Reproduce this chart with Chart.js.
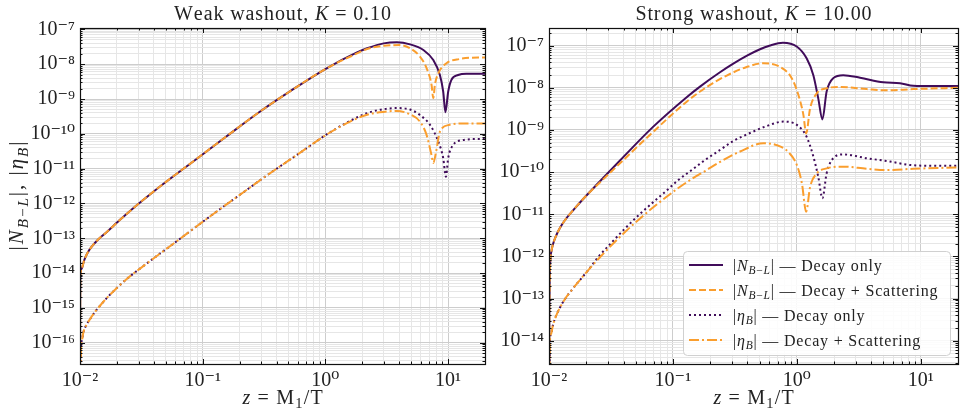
<!DOCTYPE html>
<html><head><meta charset="utf-8">
<script src="https://cdn.jsdelivr.net/npm/chart.js@4/dist/chart.umd.min.js"></script>
<style>
html,body{margin:0;padding:0;background:#fff;}
#wrap{position:relative;width:965px;height:419px;overflow:hidden;background:#fff;}
canvas{position:absolute;top:0;}
</style></head><body>
<div id="wrap">
<canvas id="c1" width="490" height="419" style="left:0px"></canvas>
<canvas id="c2" width="475" height="419" style="left:490px"></canvas>
</div>
<script>
// ---------------- DATA ----------------
// Weak washout, K = 0.10
const weakZ_NBL_decay = [0.01,0.01003,0.01009,0.01038,0.01077,0.01139,0.01232,0.01393,0.01629,0.02154,0.02931,0.0413,0.0869,0.1567,0.2825,0.525,1.007,1.81,2.19,2.99,3.83,4.9,6.29,7.58,8.58,9.13,9.52,10.02,10.65,12.07,14.08,20];
const weak_NBL_decay  = [1e-19,1e-15,8.81e-15,1.40e-14,2.23e-14,3.54e-14,5.45e-14,8.93e-14,1.45e-13,3.55e-13,9.12e-13,2.45e-12,1.78e-11,8.51e-11,3.98e-10,1.74e-9,7.41e-9,2.19e-8,2.88e-8,3.98e-8,4.27e-8,3.72e-8,2.57e-8,1.32e-8,4.90e-9,1.62e-9,4.17e-10,1.62e-9,3.55e-9,4.90e-9,5.37e-9,5.37e-9];

const weakZ_NBL_scat = [0.01,0.01003,0.01009,0.01038,0.01077,0.01139,0.01232,0.01393,0.01629,0.02154,0.02931,0.0413,0.0869,0.1567,0.2825,0.525,1.007,1.81,2.19,2.99,4.07,4.9,5.9,6.68,7.33,7.58,7.81,8.32,9.71,12.4,17.6,20];
const weak_NBL_scat  = [1e-19,1e-15,8.81e-15,1.40e-14,2.23e-14,3.54e-14,5.45e-14,8.93e-14,1.45e-13,3.55e-13,9.12e-13,2.45e-12,1.78e-11,8.51e-11,3.98e-10,1.74e-9,7.41e-9,2.04e-8,2.75e-8,3.39e-8,3.55e-8,2.88e-8,1.66e-8,7.76e-9,2.57e-9,1.05e-9,2.57e-9,5.50e-9,1.07e-8,1.41e-8,1.55e-8,1.55e-8];

const weakZ_eta_decay = [0.01,0.01019,0.01038,0.01067,0.01128,0.01216,0.01335,0.01484,0.01669,0.01901,0.02434,0.0322,0.04256,0.05807,0.0955,0.1318,0.2136,0.32,0.594,1.107,2.06,2.76,3.83,4.9,5.9,7.12,8.32,9.13,9.6,10.02,10.99,13.2,17.6,20];
const weak_eta_decay  = [1e-19,6.17e-17,1.19e-16,2.02e-16,3.21e-16,4.95e-16,7.89e-16,1.25e-15,1.99e-15,3.16e-15,7.00e-15,1.51e-14,3.16e-14,7.08e-14,2.63e-13,6.08e-13,2.07e-12,5.77e-12,2.56e-11,1.14e-10,3.63e-10,4.90e-10,5.50e-10,5.01e-10,3.47e-10,1.82e-10,6.03e-11,2.00e-11,5.89e-12,2.00e-11,4.79e-11,6.61e-11,7.08e-11,7.08e-11];

const weakZ_eta_scat = [0.01,0.01019,0.01038,0.01067,0.01128,0.01216,0.01335,0.01484,0.01669,0.01901,0.02434,0.0322,0.04256,0.05807,0.0955,0.1318,0.2136,0.32,0.594,1.107,2.06,2.76,3.83,4.9,5.9,6.68,7.33,7.58,7.99,8.58,10.3,14.1,20];
const weak_eta_scat  = [1e-19,6.17e-17,1.19e-16,2.02e-16,3.21e-16,4.95e-16,7.89e-16,1.25e-15,1.99e-15,3.16e-15,7.00e-15,1.51e-14,3.16e-14,7.08e-14,2.63e-13,6.08e-13,2.07e-12,5.77e-12,2.56e-11,1.13e-10,3.31e-10,4.17e-10,4.57e-10,3.63e-10,2.24e-10,9.33e-11,2.45e-11,1.45e-11,3.09e-11,1.15e-10,1.82e-10,2.00e-10,2.00e-10];

// Strong washout, K = 10.00
const strongZ_NBL_decay = [0.01,0.010037,0.01011,0.01024,0.01047,0.01083,0.01139,0.01189,0.01273,0.01397,0.01571,0.01953,0.025,0.03741,0.06947,0.1292,0.1655,0.2399,0.3072,0.40,0.5047,0.60,0.7737,0.998,1.2,1.36,1.49,1.61,1.74,1.97,2.37,3.24,4.99,6.81,8.71,12.6,20];
const strong_NBL_decay  = [1e-19,2.8e-15,1.60e-13,7.36e-13,1.34e-12,2.05e-12,3.05e-12,4.01e-12,5.71e-12,8.38e-12,1.26e-11,2.57e-11,5.52e-11,1.89e-10,1.20e-9,6.00e-9,1.07e-8,2.34e-8,3.75e-8,5.87e-8,8.22e-8,9.95e-8,1.18e-7,9.55e-8,5.01e-8,2.00e-8,5.62e-9,1.78e-9,8.13e-9,1.70e-8,2.00e-8,1.74e-8,1.35e-8,1.29e-8,1.12e-8,1.10e-8,1.10e-8];

const strongZ_NBL_scat = [0.01,0.010037,0.01011,0.01024,0.01047,0.01083,0.01139,0.01189,0.01273,0.01397,0.01571,0.01953,0.025,0.03741,0.06947,0.1292,0.1655,0.2107,0.2718,0.3941,0.5365,0.731,0.91,1.03,1.13,1.19,1.28,1.45,1.74,2.23,3.66,5.32,8.71,20];
const strong_NBL_scat  = [1e-19,2.8e-15,1.60e-13,7.36e-13,1.34e-12,2.05e-12,3.05e-12,4.01e-12,5.71e-12,8.38e-12,1.26e-11,2.57e-11,5.22e-11,1.62e-10,9.10e-10,4.69e-9,8.18e-9,1.30e-8,1.96e-8,3.13e-8,3.82e-8,3.16e-8,1.70e-8,6.76e-9,2.29e-9,8.32e-10,3.24e-9,7.41e-9,9.77e-9,1.05e-8,9.33e-9,8.71e-9,9.33e-9,1.00e-8];

const strongZ_eta_decay = [0.01,0.01015,0.01038,0.01077,0.01139,0.01227,0.01346,0.01505,0.01723,0.02076,0.025,0.03207,0.04106,0.05257,0.06743,0.08633,0.1106,0.1418,0.1816,0.2399,0.3072,0.419,0.5714,0.778,1.0,1.2,1.36,1.49,1.61,1.74,1.97,2.37,3.66,5.65,8.18,12.6,20];
const strong_eta_decay  = [1e-19,7.90e-15,1.44e-14,2.36e-14,3.85e-14,6.13e-14,9.75e-14,1.51e-13,2.47e-13,4.75e-13,9.68e-13,2.14e-12,4.59e-12,9.35e-12,1.80e-11,3.37e-11,6.50e-11,1.12e-10,1.94e-10,3.35e-10,5.47e-10,8.47e-10,1.24e-9,1.58e-9,1.32e-9,6.92e-10,2.34e-10,7.76e-11,2.40e-11,9.33e-11,2.14e-10,2.63e-10,2.14e-10,1.78e-10,1.48e-10,1.41e-10,1.41e-10];

const strongZ_eta_scat = [0.01,0.01015,0.01038,0.01077,0.01139,0.01227,0.01346,0.01505,0.01723,0.02076,0.025,0.03207,0.04106,0.05257,0.06743,0.08633,0.1106,0.1418,0.1816,0.2399,0.3479,0.5365,0.688,0.853,1.0,1.1,1.19,1.28,1.45,1.74,2.37,3.66,5.32,8.71,20];
const strong_eta_scat  = [1e-19,7.90e-15,1.44e-14,2.36e-14,3.85e-14,6.13e-14,9.75e-14,1.51e-13,2.47e-13,4.75e-13,8.68e-13,1.86e-12,3.79e-12,7.31e-12,1.37e-11,2.43e-11,4.20e-11,6.87e-11,1.06e-10,1.74e-10,3.08e-10,4.83e-10,4.37e-10,3.02e-10,1.48e-10,5.37e-11,1.15e-11,4.47e-11,9.33e-11,1.23e-10,1.35e-10,1.20e-10,1.12e-10,1.20e-10,1.29e-10];

// Axis ranges and text
const X_RANGE = [0.01, 20];
const WEAK_Y_RANGE = [2.44e-17, 1.1e-7];
const STRONG_Y_RANGE = [2.8e-15, 2.63e-7];
const SERIES_LABELS = ["|N_B−L| — Decay only", "|N_B−L| — Decay + Scattering", "|η_B| — Decay only", "|η_B| — Decay + Scattering"];
const LEGEND_RICH = ["$|N_{B−L}|$ — Decay only", "$|N_{B−L}|$ — Decay + Scattering", "$|η_B|$ — Decay only", "$|η_B|$ — Decay + Scattering"];
const TITLES = ["Weak washout, $K$ = 0.10", "Strong washout, $K$ = 10.00"];
const X_TITLE = "$z$ = M$_1$/T";
const Y_TITLE = "$|N_{B−L}|$, $|η_B|$";

// ---------------- STYLE ----------------
const FONT = "'Liberation Serif', 'DejaVu Serif', serif";
const PURPLE = '#400c5a';
const ORANGE = '#fa9e2e';
const STYLES = [
  {color: PURPLE, dash: [], width: 2},
  {color: ORANGE, dash: [7, 3], width: 2},
  {color: PURPLE, dash: [2, 3], width: 2},
  {color: ORANGE, dash: [10, 3, 2, 3], width: 2}
];
const GRID_MAJOR = '#cdcdcd', GRID_MINOR = '#e6e6e6';

const SUP = {'-':'⁻','0':'⁰','1':'¹','2':'²','3':'³','4':'⁴','5':'⁵','6':'⁶','7':'⁷','8':'⁸','9':'⁹'};
function fmtPow(v){ const e = Math.round(Math.log10(v)); return '10' + String(e).split('').map(c=>SUP[c]).join(''); }
function logTicks(min, max){
  const out = [];
  for (let e = Math.floor(Math.log10(min)); e <= Math.ceil(Math.log10(max)); e++) {
    for (let m = 1; m <= 9; m++) {
      const v = m * Math.pow(10, e);
      if (v >= min * 0.99999 && v <= max * 1.00001) out.push({value: v, major: m === 1});
    }
  }
  return out;
}

// -------- rich text (italic math letters, subscripts) --------
function parseRich(s){
  const segs = []; let math = false; let i = 0;
  const isL = ch => /[A-Za-z\u03b1-\u03c9]/.test(ch);
  const push = (t, it, sub) => { const l = segs[segs.length-1]; if (l && l.it===it && l.sub===sub) l.t += t; else segs.push({t, it, sub}); };
  while (i < s.length) {
    const c = s[i];
    if (c === '$') { math = !math; i++; continue; }
    if (math && c === '_') {
      let sub;
      if (s[i+1] === '{') { const j = s.indexOf('}', i+2); sub = s.slice(i+2, j); i = j+1; }
      else { sub = s[i+1]; i += 2; }
      for (const ch of sub) push(ch, isL(ch), true);
      continue;
    }
    push(c, math && isL(c), false); i++;
  }
  return segs;
}
function segFont(sg, size){ return (sg.it ? 'italic ' : '') + (sg.sub ? size*0.72 : size).toFixed(1) + 'px ' + FONT; }
function drawRich(ctx, str, x, y, size, align, ls){
  ls = ls || 0;
  const segs = parseRich(str);
  let w = 0;
  segs.forEach(sg => { ctx.font = segFont(sg, size); for (const ch of sg.t) w += ctx.measureText(ch).width + ls; });
  w -= ls;
  let cx = align === 'center' ? x - w/2 : (align === 'right' ? x - w : x);
  ctx.textAlign = 'left'; ctx.textBaseline = 'alphabetic'; ctx.fillStyle = '#222';
  segs.forEach(sg => {
    ctx.font = segFont(sg, size);
    for (const ch of sg.t) { ctx.fillText(ch, cx, y + (sg.sub ? size*0.22 : 0)); cx += ctx.measureText(ch).width + ls; }
  });
}

const decorPlugin = {
  id: 'decor',
  afterDatasetsDraw(chart, args, o) {
    const ctx = chart.ctx, a = chart.chartArea, xs = chart.scales.x, ys = chart.scales.y;
    ctx.save();
    ctx.strokeStyle = '#111'; ctx.lineWidth = 1; ctx.setLineDash([]);
    ctx.beginPath();
    xs.ticks.forEach(t => {
      const p = Math.round(xs.getPixelForValue(t.value)) + 0.5; const L = t.major ? 5 : 2.5;
      ctx.moveTo(p, a.bottom); ctx.lineTo(p, a.bottom - L);
      ctx.moveTo(p, a.top); ctx.lineTo(p, a.top + L);
    });
    ys.ticks.forEach(t => {
      const p = Math.round(ys.getPixelForValue(t.value)) + 0.5; const L = t.major ? 5 : 2.5;
      ctx.moveTo(a.left, p); ctx.lineTo(a.left + L, p);
      ctx.moveTo(a.right, p); ctx.lineTo(a.right - L, p);
    });
    ctx.stroke();
    ctx.lineWidth = 1.2;
    ctx.strokeRect(Math.round(a.left)+0.5, Math.round(a.top)+0.5, Math.round(a.right - a.left), Math.round(a.bottom - a.top));
    if (o.legend) {
      const bw = 267, bh = 104; const bx = a.right - 8 - bw, by = a.bottom - 9 - bh;
      ctx.fillStyle = 'rgba(255,255,255,0.85)'; ctx.strokeStyle = '#d0d0d0'; ctx.lineWidth = 1;
      ctx.beginPath(); ctx.roundRect(bx + 0.5, by + 0.5, bw, bh, 4); ctx.fill(); ctx.stroke();
      chart.data.datasets.forEach((ds, i) => {
        const ry = by + 14 + i * 25;
        ctx.strokeStyle = ds.borderColor; ctx.lineWidth = ds.borderWidth; ctx.setLineDash(ds.borderDash || []);
        ctx.beginPath(); ctx.moveTo(bx + 6, ry); ctx.lineTo(bx + 40, ry); ctx.stroke();
        ctx.setLineDash([]);
        drawRich(ctx, LEGEND_RICH[i], bx + 50, ry + 5.5, 16, 'left', 0.8);
      });
    }
    ctx.restore();
  },
  afterDraw(chart, args, o) {
    const ctx = chart.ctx, a = chart.chartArea;
    ctx.save();
    drawRich(ctx, o.title, (a.left + a.right)/2, 20, 20, 'center', 0.9);
    drawRich(ctx, X_TITLE, (a.left + a.right)/2, 404, 20, 'center', 1.2);
    if (o.yTitle) {
      ctx.translate(23, (a.top + a.bottom)/2); ctx.rotate(-Math.PI/2);
      drawRich(ctx, Y_TITLE, 0, 0, 21, 'center', 2);
    }
    ctx.restore();
  }
};

function makeChart(id, zs, vs, yRange, yWidth, padRight, title, yTitle, legend){
  const datasets = zs.map((z, i) => ({
    label: SERIES_LABELS[i],
    data: z.map((zz, k) => ({x: zz, y: vs[i][k]})),
    borderColor: STYLES[i].color, borderDash: STYLES[i].dash, borderWidth: STYLES[i].width,
    pointRadius: 0, fill: false, cubicInterpolationMode: 'monotone', order: 3 - i
  }));
  const axisCommon = (range, isX) => ({
    type: 'logarithmic', min: range[0], max: range[1],
    afterBuildTicks: s => { s.ticks = logTicks(range[0], range[1]); },
    afterFit: s => { if (isX) s.height = 55; else s.width = yWidth; },
    grid: { color: c => (c.tick && c.tick.major) ? GRID_MAJOR : GRID_MINOR, lineWidth: 1, drawTicks: false },
    border: { display: false },
    ticks: { autoSkip: false, maxRotation: 0, minRotation: 0, padding: 5, color: '#222',
      font: { family: FONT, size: 20 },
      callback: (v, i, t) => t[i] && t[i].major ? fmtPow(v) : '' }
  });
  return new Chart(document.getElementById(id), {
    type: 'line',
    data: { datasets },
    options: {
      responsive: false, animation: false, devicePixelRatio: 1,
      layout: { padding: { left: 0, right: padRight, top: 28, bottom: 0 } },
      plugins: { legend: { display: false }, title: { display: false }, tooltip: { enabled: false },
        decor: { title, yTitle, legend } },
      scales: { x: axisCommon(X_RANGE, true), y: axisCommon(yRange, false) }
    },
    plugins: [decorPlugin]
  });
}

makeChart('c1',
  [weakZ_NBL_decay, weakZ_NBL_scat, weakZ_eta_decay, weakZ_eta_scat],
  [weak_NBL_decay, weak_NBL_scat, weak_eta_decay, weak_eta_scat],
  WEAK_Y_RANGE, 80, 4, TITLES[0], true, false);
makeChart('c2',
  [strongZ_NBL_decay, strongZ_NBL_scat, strongZ_eta_decay, strongZ_eta_scat],
  [strong_NBL_decay, strong_NBL_scat, strong_eta_decay, strong_eta_scat],
  STRONG_Y_RANGE, 59, 7, TITLES[1], false, true);
</script>
</body></html>
